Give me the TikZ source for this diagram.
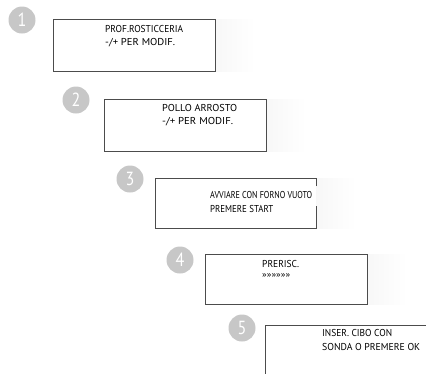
\documentclass[tikz,border=0pt]{standalone}
\usepackage{fontspec}
\usepackage{graphicx}
\newfontfamily\lcdfont{PT Sans}
\newfontfamily\numfont[FakeStretch=0.85]{PT Sans}
\newsavebox\lcdsave
\newcommand\fitw[2]{\sbox\lcdsave{#2}\pgfmathsetmacro\lcdsx{#1/\the\wd\lcdsave}\scalebox{\lcdsx}[1]{\usebox\lcdsave}}
\tikzset{
  lcdbox/.style={draw=black!70, line width=0.9pt},
  shadowbox/.style={left color=black!3, right color=white, draw=none},
  stepnum/.style={circle, fill=black!22, minimum size=27pt, inner sep=0pt, text=white, font=\numfont\fontsize{19}{19}\selectfont},
  lcdtext/.style={anchor=west, inner sep=0pt, font=\lcdfont\fontsize{10}{11}\selectfont, text=black},
}
\begin{document}
\begin{tikzpicture}[x=1pt, y=-1pt]
\clip (0,0) rectangle (426,373);
\fill[white] (0,0) rectangle (426,373);
% shadows
\shade[shadowbox] (215,19) rectangle (255,71);
\shade[shadowbox] (266,99) rectangle (306,151);
\shade[shadowbox] (316,178) rectangle (356,228);
\shade[shadowbox] (367,254) rectangle (407,304);
% step numbers
\node[stepnum] (n1) at (22,20) {1};
\node[stepnum] (n2) at (76,100) {2};
\node[stepnum] (n3) at (130,179) {3};
\node[stepnum] (n4) at (180,260) {4};
\node[stepnum] (n5) at (242,328) {5};
% boxes
\draw[lcdbox] (53,19) rectangle (215,71);
\draw[lcdbox] (104,99) rectangle (266,151);
\draw[lcdbox] (316,186) -- (316,178) -- (155,178) -- (155,228) -- (316,228) -- (316,206);
\draw[lcdbox] (205,254) rectangle (367,304);
\draw[lcdbox] (265,325) rectangle (450,400);
% texts
\node[lcdtext] (t1a) at (105,29) {\fitw{78}{PROF.ROSTICCERIA}};
\node[lcdtext] (t1b) at (105,43) {\fitw{70}{-/+ PER MODIF.}};
\node[lcdtext] (t2a) at (162,108) {\fitw{75}{POLLO ARROSTO}};
\node[lcdtext] (t2b) at (162,122) {\fitw{71}{-/+ PER MODIF.}};
\node[lcdtext] (t3a) at (210,195) {\fitw{102}{AVVIARE CON FORNO VUOTO}};
\node[lcdtext] (t3b) at (210,209) {\fitw{63}{PREMERE START}};
\node[lcdtext] (t4a) at (262,264) {\fitw{37}{PRERISC.}};
\node[lcdtext, font=\lcdfont\fontsize{8}{9}\selectfont] (t4b) at (262,276) {\fitw{28}{»»»»»»}};
\node[lcdtext] (t5a) at (322,333) {\fitw{70}{INSER. CIBO CON}};
\node[lcdtext] (t5b) at (322,347) {\fitw{98}{SONDA O PREMERE OK}};
\end{tikzpicture}
\end{document}
